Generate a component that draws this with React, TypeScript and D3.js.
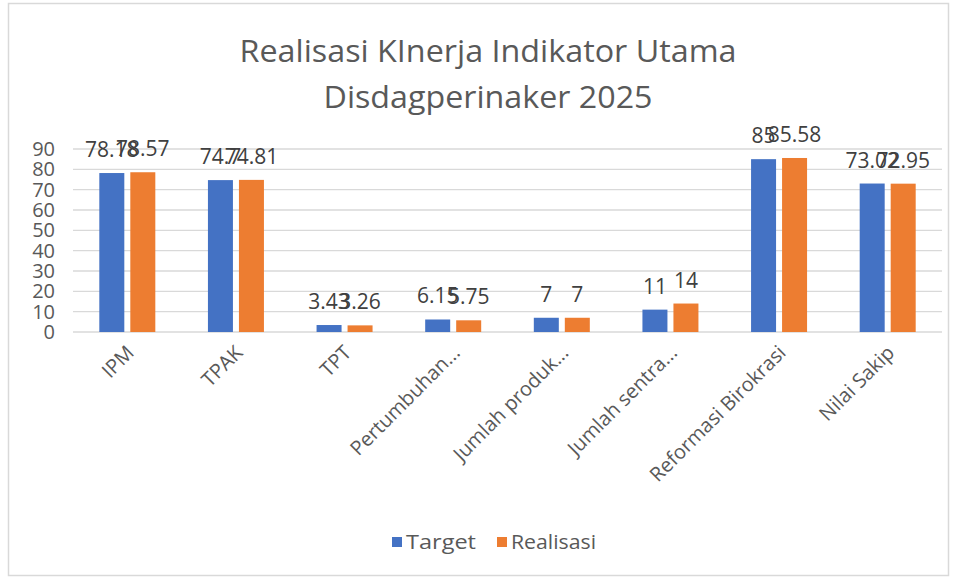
import React from "react";
import * as d3 from "d3";

const categories = ["IPM", "TPAK", "TPT", "Pertumbuhan...", "Jumlah produk...", "Jumlah sentra...", "Reformasi Birokrasi", "Nilai Sakip"];
const targetValues = [78.18, 74.7, 3.43, 6.15, 7, 11, 85, 73.02];
const realisasiValues = [78.57, 74.81, 3.26, 5.75, 7, 14, 85.58, 72.95];
const yTicks = [0, 10, 20, 30, 40, 50, 60, 70, 80, 90];
const seriesNames = ["Target", "Realisasi"];
const colors = ["#4472C4", "#ED7D31"];

const W = 958, H = 580;
const left = 73, right = 942, top = 149, bottom = 332;
const FONT = "'Open Sans', 'Noto Sans', sans-serif";

export default function App() {
  const x = d3.scaleBand<string>().domain(categories).range([left, right]).paddingInner(0).paddingOuter(0);
  const y = d3.scaleLinear().domain([0, 90]).range([bottom, top]);
  const bw = 25, gap = 6;
  const fmt = (v: number) => String(v);
  const series = [targetValues, realisasiValues];
  return (
    <svg width={W} height={H} style={{ position: "absolute", left: 0, top: 0, background: "#fff" }} fontFamily={FONT}>
      <rect x={8.5} y={3.5} width={940} height={572} fill="#fff" stroke="#D9D9D9" strokeWidth={1.5} />
      <text x={488} y={62} textAnchor="middle" fontSize={31} fill="#595959" textLength={497} lengthAdjust="spacingAndGlyphs">Realisasi KInerja Indikator Utama</text>
      <text x={488} y={108} textAnchor="middle" fontSize={31} fill="#595959" textLength={329} lengthAdjust="spacingAndGlyphs">Disdagperinaker 2025</text>
      {yTicks.map(t => (
        <g key={t}>
          <line x1={left} x2={right} y1={y(t)} y2={y(t)} stroke="#D9D9D9" strokeWidth={1.3} />
          <text x={55} y={y(t) + 7} textAnchor="end" fontSize={20} fill="#595959">{t}</text>
        </g>
      ))}
      {categories.map((c, i) => {
        const cx = (x(c) as number) + x.bandwidth() / 2;
        return (
          <g key={c}>
            {series.map((s, k) => {
              const bx = k === 0 ? cx - gap / 2 - bw : cx + gap / 2;
              return (
                <rect key={k} x={bx} y={y(s[i])} width={bw} height={bottom - y(s[i])} fill={colors[k]} />
              );
            })}
            {series.map((s, k) => {
              const bx = k === 0 ? cx - gap / 2 - bw : cx + gap / 2;
              return (
                <text key={"l" + k} x={bx + bw / 2} y={y(s[i]) - 16} textAnchor="middle" fontSize={21} fill="#404040">{fmt(s[i])}</text>
              );
            })}
            <text transform={`translate(${cx + 8},${354}) rotate(-45)`} textAnchor="end" fontSize={20} fill="#595959">{c}</text>
          </g>
        );
      })}
      {seriesNames.map((n, k) => {
        const lx = k === 0 ? 392 : 497;
        return (
          <g key={n}>
            <rect x={lx} y={537} width={10} height={10} fill={colors[k]} />
            <text x={lx + 14} y={549} fontSize={20} fill="#595959" textLength={k === 0 ? 70 : 85} lengthAdjust="spacingAndGlyphs">{n}</text>
          </g>
        );
      })}
    </svg>
  );
}
